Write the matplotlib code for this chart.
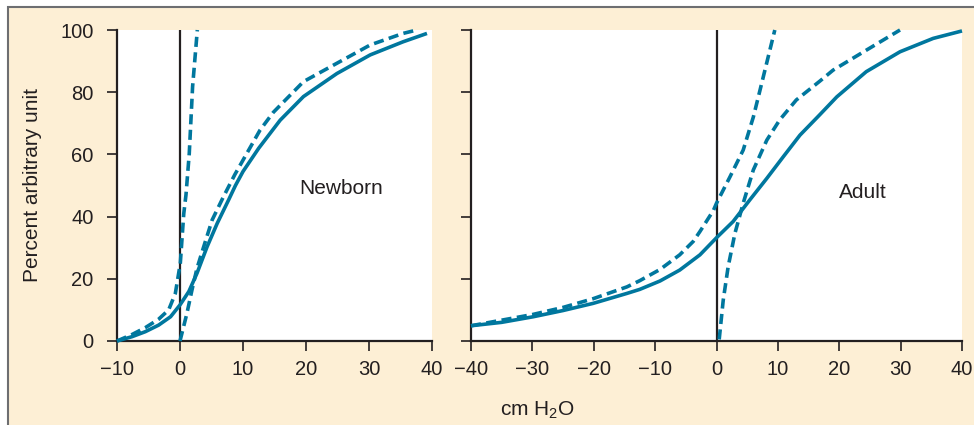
import matplotlib
matplotlib.use("Agg")
import matplotlib.pyplot as plt
from matplotlib.patches import Rectangle

plt.rcParams['font.family'] = ['Liberation Sans', 'DejaVu Sans']

# pressure-volume curves, newborn
nb_solid_x = [-10, -7.6, -5.5, -3.4, -1.5, 0, 1.4, 2.7, 4.3, 5.9, 7.7, 8.8, 10.0, 12.5, 15.9, 19.6, 24.9, 30.2, 35.4, 39.2]
nb_solid_y = [0, 1.4, 3.0, 5.1, 7.8, 11.6, 15.9, 21.8, 30.3, 37.8, 45.3, 50, 54.5, 62, 71, 78.6, 86, 92, 96.2, 98.9]
nb_dashA_x = [-10, -7.6, -5.5, -3.4, -1.8, -0.74, 0.05, 0.6, 0.95, 1.47, 2.0, 2.75]
nb_dashA_y = [0, 2.1, 4.3, 7.0, 10, 15.3, 25, 41, 47, 60.3, 81.8, 100]
nb_dashB_x = [0, 1.1, 1.9, 2.7, 3.76, 5.1, 6.9, 8.7, 12.7, 14.8, 19.6, 24.9, 30.2, 35.4, 37.6]
nb_dashB_y = [0, 8.9, 16.4, 23.4, 30.3, 38.9, 46.4, 53.5, 67.8, 73.5, 83.4, 89.3, 95.2, 98.9, 100]

# adult
ad_solid_x = [-40, -35, -29.85, -25, -20.1, -14.6, -12.5, -9.2, -6.0, -2.7, 0, 2.7, 5.4, 8.2, 10.9,
              13.6, 16.8, 19.6, 24.4, 29.9, 35.3, 40]
ad_solid_y = [4.9, 6.0, 7.8, 9.8, 12.1, 15.3, 16.6, 19.3, 22.8, 27.7, 33.2, 38.4, 45.3, 52.3, 59.3,
              66.2, 72.7, 78.5, 86.6, 93, 97.3, 99.7]
ad_dashA_x = [-40, -30, -25, -20.1, -14.6, -12.5, -9.2, -6.0, -3.8, -2.7, -0.5, 0, 2.2, 4.35, 6.0, 7.07, 9.5]
ad_dashA_y = [4.9, 8.5, 10.8, 13.6, 17.4, 19.4, 23.0, 27.7, 32.0, 35.2, 42, 44.3, 52.8, 61.4, 72, 80.5, 100]
ad_dashB_x = [0.44, 1.1, 1.9, 3.0, 4.35, 6.0, 8.2, 10.3, 13.0, 16.8, 19.0, 24.4, 29.9]
ad_dashB_y = [0.5, 13.2, 23.9, 34.6, 44.3, 55, 64.6, 71.1, 77.5, 83.5, 87.1, 93.5, 100]

yticks = [0, 20, 40, 60, 80, 100]

blue = '#00779e'
ink = '#231f20'
beige = '#fdefd5'

fig = plt.figure(figsize=(9.74, 4.25), dpi=100, facecolor='white')
fig.patches.append(Rectangle((8 / 974, -0.01), 1.0, 1 - 7 / 425 + 0.01,
                             transform=fig.transFigure, facecolor=beige,
                             edgecolor='#6d6e71', linewidth=1.5, zorder=-5))

ax1 = fig.add_axes([117 / 974, 1 - 341 / 425, 315 / 974, 311 / 425])
ax2 = fig.add_axes([471 / 974, 1 - 341 / 425, 491 / 974, 311 / 425])


def style(ax, xlim, xticks, show_ylabels):
    ax.set_facecolor('white')
    ax.set_xlim(*xlim)
    ax.set_ylim(0, 100)
    ax.set_xticks(xticks)
    ax.set_yticks(yticks)
    if not show_ylabels:
        ax.set_yticklabels([])
    for s in ['top', 'right']:
        ax.spines[s].set_visible(False)
    for s in ['left', 'bottom']:
        ax.spines[s].set_color(ink)
        ax.spines[s].set_linewidth(1.6)
    ax.tick_params(direction='out', length=7, width=1.2, color=ink,
                   labelsize=14.5, labelcolor=ink)
    ax.tick_params(axis='x', pad=7)
    ax.tick_params(axis='y', pad=10)
    ax.axvline(0, color=ink, lw=1.6, zorder=2)


style(ax1, (-10, 40), range(-10, 41, 10), True)
style(ax2, (-40, 40), range(-40, 41, 10), False)

dash = (0, (2.8, 1.5))
lw = 2.6
ax1.plot(nb_solid_x, nb_solid_y, color=blue, lw=lw, solid_capstyle='butt', solid_joinstyle='round',
         zorder=3, clip_on=False)
ax1.plot(nb_dashA_x, nb_dashA_y, color=blue, lw=lw, ls=dash, zorder=3, clip_on=False)
ax1.plot(nb_dashB_x, nb_dashB_y, color=blue, lw=lw, ls=dash, zorder=3, clip_on=False)

ax2.plot(ad_solid_x, ad_solid_y, color=blue, lw=lw, solid_capstyle='butt', solid_joinstyle='round',
         zorder=3, clip_on=False)
ax2.plot(ad_dashA_x, ad_dashA_y, color=blue, lw=lw, ls=dash, zorder=3, clip_on=False)
ax2.plot(ad_dashB_x, ad_dashB_y, color=blue, lw=lw, ls=dash, zorder=3, clip_on=False)

ax1.text(25.6, 49, 'Newborn', ha='center', va='center', fontsize=15, color=ink)
ax2.text(23.9, 47.6, 'Adult', ha='center', va='center', fontsize=15, color=ink)

ax1.set_ylabel('Percent arbitrary unit', fontsize=15, color=ink)
ax1.yaxis.set_label_coords(-0.238, 0.5)
fig.text(537 / 974, 1 - 410 / 425, r'cm H$_\mathregular{2}$O', ha='center', va='center',
         fontsize=15, color=ink)

fig.savefig('out.png', dpi=100, facecolor=fig.get_facecolor())
